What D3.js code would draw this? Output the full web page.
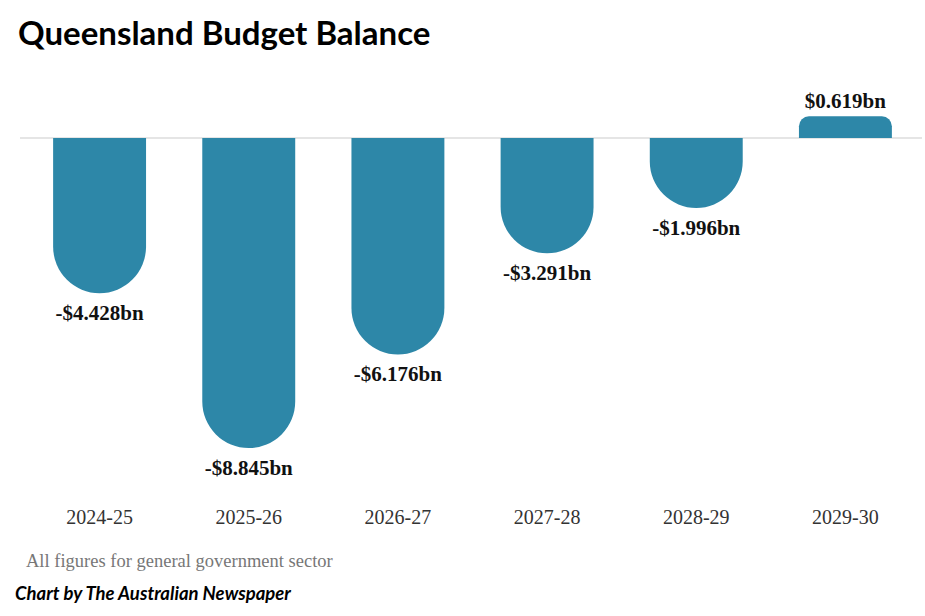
<!DOCTYPE html>
<html><head><meta charset="utf-8">
<script src="https://cdn.jsdelivr.net/npm/d3@7"></script>
<style>body{margin:0;background:#fff}svg{display:block}</style>
</head><body>
<script>
const categories = ["2024-25","2025-26","2026-27","2027-28","2028-29","2029-30"];
const values = [-4.428,-8.845,-6.176,-3.291,-1.996,0.619];
const labels = ["-$4.428bn","-$8.845bn","-$6.176bn","-$3.291bn","-$1.996bn","$0.619bn"];

const W=925,H=616;
const svg=d3.select("body").append("svg").attr("width",W).attr("height",H);
const x=d3.scaleBand().domain(categories).range([25,920]).paddingInner(0.377).paddingOuter(0.1885);
const y=d3.scaleLinear().domain([-9,1]).range([453.45,102.95]);
const color="#2d87a8";

svg.append("text").attr("x",18).attr("y",45).text("Queensland Budget Balance")
  .attr("font-family","Lato, 'Open Sans', sans-serif").attr("font-weight","bold").attr("font-size",33).attr("fill","#000");

svg.append("line").attr("x1",20).attr("x2",922).attr("y1",y(0)).attr("y2",y(0)).attr("stroke","#dcdcdc").attr("stroke-width",1.5);

const bw=x.bandwidth();
function barPath(c,v){
  const x0=x(c), x1=x0+bw, y0=y(0), yv=y(v);
  if(v<0){
    const r=Math.min(bw/2, yv-y0);
    return `M${x0},${y0}L${x1},${y0}L${x1},${yv-r}A${bw/2},${r} 0 0 1 ${x0},${yv-r}Z`;
  } else {
    const r=Math.min(10,(y0-yv));
    return `M${x0},${y0}L${x0},${yv+r}A${r},${r} 0 0 1 ${x0+r},${yv}L${x1-r},${yv}A${r},${r} 0 0 1 ${x1},${yv+r}L${x1},${y0}Z`;
  }
}
svg.selectAll("path.bar").data(categories).join("path").attr("class","bar")
  .attr("d",(c,i)=>barPath(c,values[i])).attr("fill",color);

svg.selectAll("text.val").data(categories).join("text").attr("class","val")
  .attr("x",c=>x(c)+bw/2)
  .attr("y",(c,i)=>values[i]<0? y(values[i])+27 : y(values[i])-8)
  .attr("text-anchor","middle")
  .attr("font-family","'Liberation Serif', 'Times New Roman', serif").attr("font-weight","bold").attr("font-size",21).attr("fill","#111")
  .text((c,i)=>labels[i]);

const axis=d3.axisBottom(x).tickSize(0).tickPadding(0);
const g=svg.append("g").attr("transform","translate(0,509)").call(axis);
g.select(".domain").remove();
g.selectAll("text").attr("font-family","'Liberation Serif', 'Times New Roman', serif").attr("font-size",20).attr("fill","#333").attr("dy",0).attr("y",15);

svg.append("text").attr("x",26).attr("y",567).text("All figures for general government sector")
  .attr("font-family","'Liberation Serif', 'Times New Roman', serif").attr("font-size",18.5).attr("fill","#777");
svg.append("text").attr("x",15).attr("y",600).text("Chart by The Australian Newspaper")
  .attr("font-family","Lato, 'Open Sans', sans-serif").attr("font-weight","bold").attr("font-style","italic").attr("font-size",18.5).attr("fill","#000");
</script>
</body></html>
